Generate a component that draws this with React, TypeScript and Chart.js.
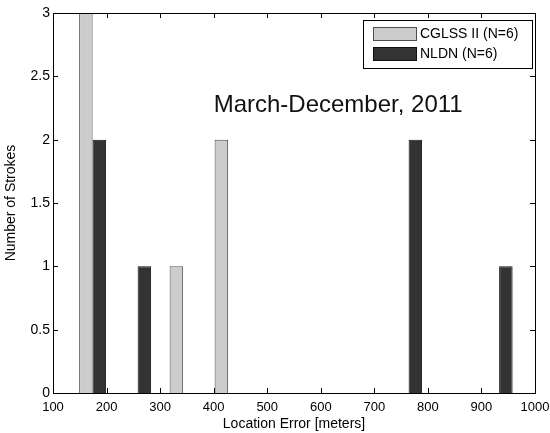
import React, { useEffect, useRef } from "react";
import { Chart, registerables } from "chart.js";

Chart.register(...registerables);

// Histogram bin centres (meters)
const binCenters = [174, 258, 343, 427, 511, 596, 680, 764, 849, 933];
// Stroke counts per bin
const cglssCounts = [3, 0, 1, 2, 0, 0, 0, 0, 0, 0];
const nldnCounts = [2, 1, 0, 0, 0, 0, 0, 2, 0, 1];
const seriesLabels = ["CGLSS II (N=6)", "NLDN (N=6)"];
const seriesColors = ["#cccccc", "#333333"];
const seriesBorders = ["#505050", "#111111"];
const xTicks = [100, 200, 300, 400, 500, 600, 700, 800, 900, 1000];
const yTicks = [0, 0.5, 1, 1.5, 2, 2.5, 3];
const annotationText = "March-December, 2011";
const annotationPos = { x: 400, y: 2.27 };

const FONT = "'Liberation Sans', Arial, Helvetica, sans-serif";

const framePlugin = {
  id: "matlabFrame",
  afterDraw(chart: any) {
    const { ctx, chartArea } = chart;
    const { left, right, top, bottom } = chartArea;
    const xs = chart.scales.x;
    const ys = chart.scales.y;
    ctx.save();
    ctx.strokeStyle = "#000";
    ctx.lineWidth = 1;
    // box
    ctx.strokeRect(Math.round(left) + 0.5, Math.round(top) + 0.5, Math.round(right - left), Math.round(bottom - top));
    const tl = 5;
    ctx.beginPath();
    xTicks.forEach((v) => {
      const px = Math.round(xs.getPixelForValue(v)) + 0.5;
      ctx.moveTo(px, bottom);
      ctx.lineTo(px, bottom - tl);
      ctx.moveTo(px, top);
      ctx.lineTo(px, top + tl);
    });
    yTicks.forEach((v) => {
      const py = Math.round(ys.getPixelForValue(v)) + 0.5;
      ctx.moveTo(left, py);
      ctx.lineTo(left + tl, py);
      ctx.moveTo(right, py);
      ctx.lineTo(right - tl, py);
    });
    ctx.stroke();

    // annotation
    ctx.fillStyle = "#111";
    ctx.font = `24px ${FONT}`;
    ctx.textAlign = "left";
    ctx.textBaseline = "middle";
    ctx.fillText(annotationText, xs.getPixelForValue(annotationPos.x), ys.getPixelForValue(annotationPos.y));

    // legend
    const lx1 = Math.round(right) - 172;
    const lx2 = Math.round(right) - 3;
    const ly1 = Math.round(top) + 7;
    const ly2 = ly1 + 48;
    ctx.fillStyle = "#fff";
    ctx.fillRect(lx1, ly1, lx2 - lx1, ly2 - ly1);
    ctx.strokeStyle = "#000";
    ctx.strokeRect(lx1 + 0.5, ly1 + 0.5, lx2 - lx1, ly2 - ly1);
    ctx.font = `14px ${FONT}`;
    ctx.textBaseline = "middle";
    seriesLabels.forEach((lab, i) => {
      const py = ly1 + 7 + i * 20;
      ctx.fillStyle = seriesColors[i];
      ctx.fillRect(lx1 + 10, py, 44, 14);
      ctx.strokeStyle = seriesBorders[i];
      ctx.strokeRect(lx1 + 10.5, py + 0.5, 43, 13);
      ctx.fillStyle = "#000";
      ctx.fillText(lab, lx1 + 57, py + 7);
    });
    ctx.restore();
  },
};

export default function App() {
  const ref = useRef<HTMLCanvasElement | null>(null);
  useEffect(() => {
    document.body.style.margin = "0";
    const canvas = ref.current;
    if (!canvas) return;
    const chart = new Chart(canvas, {
      type: "bar",
      data: {
        datasets: [
          {
            label: seriesLabels[0],
            data: binCenters.map((x, i) => ({ x, y: cglssCounts[i] })),
            backgroundColor: seriesColors[0],
            borderColor: seriesBorders[0],
            borderWidth: 1,
            categoryPercentage: 0.6,
            barPercentage: 1.0,
          },
          {
            label: seriesLabels[1],
            data: binCenters.map((x, i) => ({ x, y: nldnCounts[i] })),
            backgroundColor: seriesColors[1],
            borderColor: seriesBorders[1],
            borderWidth: 1,
            categoryPercentage: 0.6,
            barPercentage: 1.0,
          },
        ] as any,
      },
      options: {
        responsive: false,
        animation: false,
        devicePixelRatio: 1,
        layout: { padding: { top: 13, right: 15, left: 0, bottom: 0 } },
        font: { family: FONT },
        plugins: { legend: { display: false }, tooltip: { enabled: false } },
        scales: {
          x: {
            type: "linear",
            min: 100,
            max: 1000,
            offset: false,
            grid: { display: false, drawTicks: false },
            border: { display: false },
            ticks: {
              stepSize: 100,
              padding: 7,
              color: "#000",
              autoSkip: false,
              maxRotation: 0,
              font: { size: 13, family: FONT },
              callback: (v: any) => String(v),
            },
            title: {
              display: true,
              text: "Location Error [meters]",
              color: "#000",
              font: { size: 14, family: FONT },
              padding: { top: 0, bottom: 0 },
            },
            afterFit: (s: any) => {
              s.height = 40;
              s.paddingLeft = 0;
              s.paddingRight = 0;
            },
          },
          y: {
            min: 0,
            max: 3,
            grid: { display: false, drawTicks: false },
            border: { display: false },
            ticks: {
              stepSize: 0.5,
              padding: 3,
              color: "#000",
              font: { size: 14, family: FONT },
              callback: (v: any) => String(v),
            },
            title: {
              display: true,
              text: "Number of Strokes",
              color: "#000",
              font: { size: 14, family: FONT },
              padding: { top: 3, bottom: 0 },
            },
            afterFit: (s: any) => {
              s.width = 53;
              s.paddingTop = 0;
              s.paddingBottom = 0;
            },
          },
        },
      } as any,
      plugins: [framePlugin],
    });
    return () => chart.destroy();
  }, []);
  return (
    <div style={{ width: 550, height: 433, position: "relative", background: "#fff" }}>
      <canvas ref={ref} width={550} height={433} />
    </div>
  );
}
